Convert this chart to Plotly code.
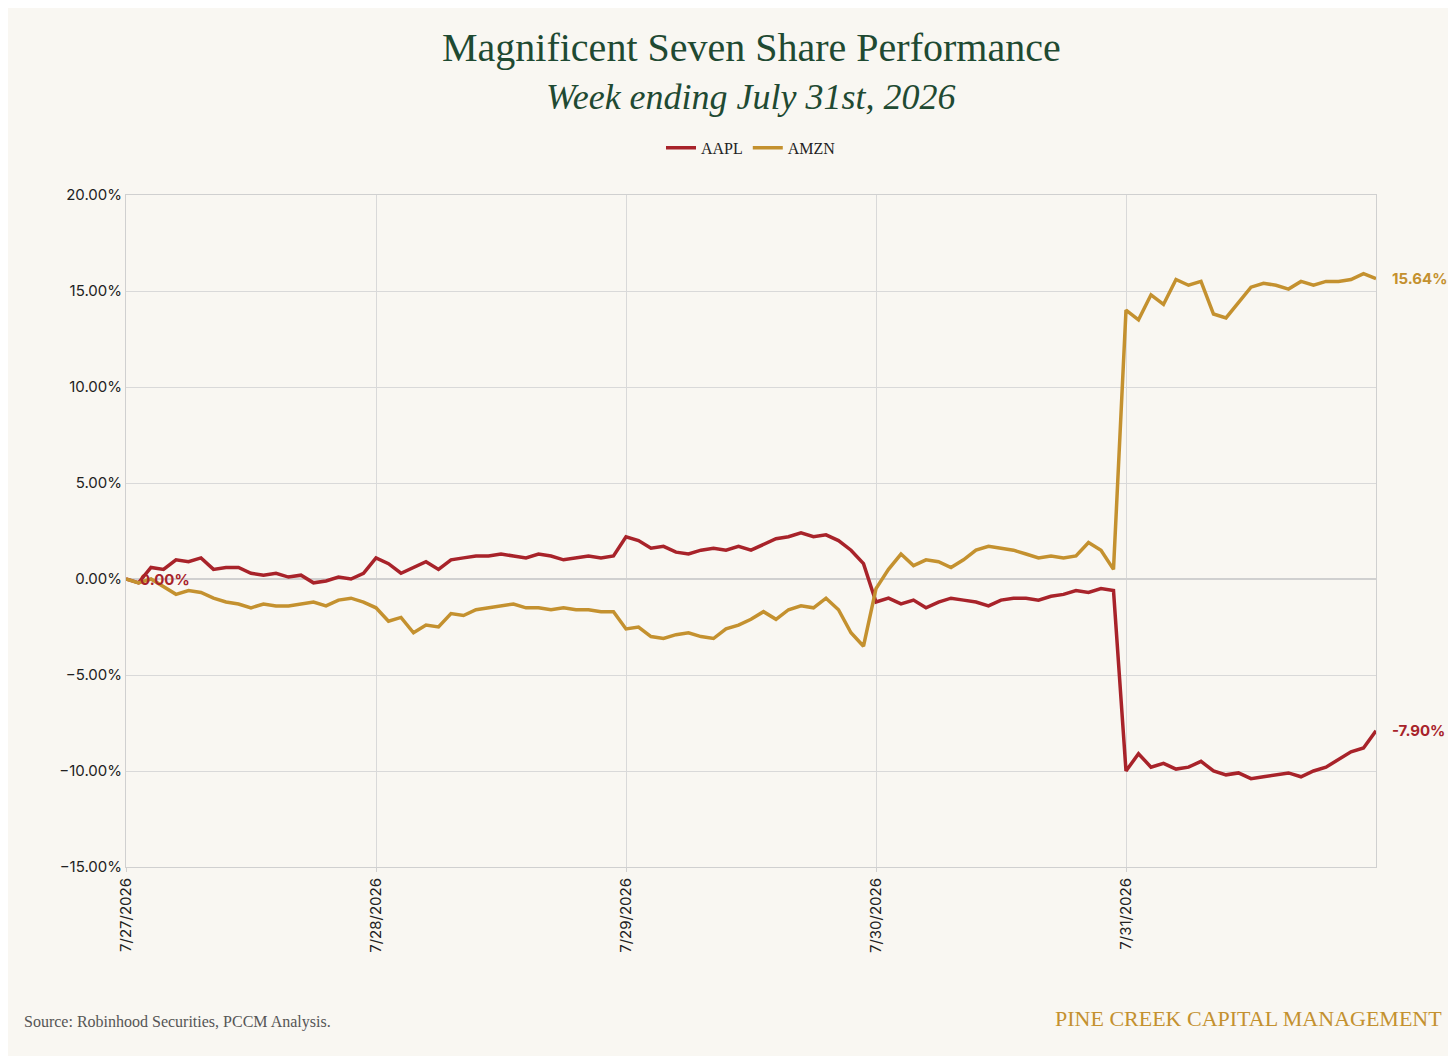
import plotly.graph_objects as go

days = ["7/27/2026", "7/28/2026", "7/29/2026", "7/30/2026", "7/31/2026"]
pts_per_day = 20

aapl = [0, -0.2, 0.6, 0.5, 1.0, 0.9, 1.1, 0.5, 0.6, 0.6, 0.3, 0.2, 0.3, 0.1, 0.2, -0.2, -0.1, 0.1, 0.0, 0.3,
        1.1, 0.8, 0.3, 0.6, 0.9, 0.5, 1.0, 1.1, 1.2, 1.2, 1.3, 1.2, 1.1, 1.3, 1.2, 1.0, 1.1, 1.2, 1.1, 1.2,
        2.2, 2.0, 1.6, 1.7, 1.4, 1.3, 1.5, 1.6, 1.5, 1.7, 1.5, 1.8, 2.1, 2.2, 2.4, 2.2, 2.3, 2.0, 1.5, 0.8,
        -1.2, -1.0, -1.3, -1.1, -1.5, -1.2, -1.0, -1.1, -1.2, -1.4, -1.1, -1.0, -1.0, -1.1, -0.9, -0.8, -0.6, -0.7, -0.5, -0.6,
        -10.0, -9.1, -9.8, -9.6, -9.9, -9.8, -9.5, -10.0, -10.2, -10.1, -10.4, -10.3, -10.2, -10.1, -10.3, -10.0, -9.8, -9.4, -9.0, -8.8, -7.9]
amzn = [0, -0.2, 0.0, -0.4, -0.8, -0.6, -0.7, -1.0, -1.2, -1.3, -1.5, -1.3, -1.4, -1.4, -1.3, -1.2, -1.4, -1.1, -1.0, -1.2,
        -1.5, -2.2, -2.0, -2.8, -2.4, -2.5, -1.8, -1.9, -1.6, -1.5, -1.4, -1.3, -1.5, -1.5, -1.6, -1.5, -1.6, -1.6, -1.7, -1.7,
        -2.6, -2.5, -3.0, -3.1, -2.9, -2.8, -3.0, -3.1, -2.6, -2.4, -2.1, -1.7, -2.1, -1.6, -1.4, -1.5, -1.0, -1.6, -2.8, -3.5,
        -0.5, 0.5, 1.3, 0.7, 1.0, 0.9, 0.6, 1.0, 1.5, 1.7, 1.6, 1.5, 1.3, 1.1, 1.2, 1.1, 1.2, 1.9, 1.5, 0.5,
        14.0, 13.5, 14.8, 14.3, 15.6, 15.3, 15.5, 13.8, 13.6, 14.4, 15.2, 15.4, 15.3, 15.1, 15.5, 15.3, 15.5, 15.5, 15.6, 15.9, 15.64]

RED = "#a8232a"
GOLD = "#c4912f"
GREEN = "#1f4a32"
BG = "#f9f7f2"

x = list(range(len(aapl)))

fig = go.Figure()
fig.add_trace(go.Scatter(x=x, y=aapl, mode="lines", name="AAPL", line=dict(color=RED, width=3.5)))
fig.add_trace(go.Scatter(x=x, y=amzn, mode="lines", name="AMZN", line=dict(color=GOLD, width=3.5)))

# end / start labels
fig.add_annotation(x=x[-1], y=amzn[-1], text="<b>%.2f%%</b>" % amzn[-1], showarrow=False,
                   xanchor="left", xshift=14, font=dict(color=GOLD, size=15, family="Inter"))
fig.add_annotation(x=x[-1], y=aapl[-1], text="<b>%.2f%%</b>" % aapl[-1], showarrow=False,
                   xanchor="left", xshift=14, font=dict(color=RED, size=15, family="Inter"))
fig.add_annotation(x=x[0], y=aapl[0], text="<b>0.00%</b>", showarrow=False,
                   xanchor="left", xshift=12, font=dict(color=RED, size=15, family="Inter"))

fig.add_annotation(xref="paper", yref="paper", x=0.5, y=1.0, yshift=172, text="Magnificent Seven Share Performance",
                   showarrow=False, font=dict(family="Liberation Serif", size=40, color=GREEN))
fig.add_annotation(xref="paper", yref="paper", x=0.5, y=1.0, yshift=120, text="<i>Week ending July 31st, 2026</i>",
                   showarrow=False, font=dict(family="Liberation Serif", size=36, color=GREEN))
fig.add_annotation(xref="paper", yref="paper", x=-0.083, y=0, yshift=-166, xanchor="left",
                   text="Source: Robinhood Securities, PCCM Analysis.", showarrow=False,
                   font=dict(family="Liberation Serif", size=16, color="#555555"))
fig.add_annotation(xref="paper", yref="paper", x=1.054, y=0, yshift=-166, xanchor="right",
                   text="PINE CREEK CAPITAL MANAGEMENT", showarrow=False,
                   font=dict(family="Liberation Serif", size=22, color=GOLD))

fig.update_layout(
    width=1456, height=1056,
    paper_bgcolor=BG, plot_bgcolor=BG,
    margin=dict(l=118, r=88, t=187, b=197),
    font=dict(family="Inter", size=15, color="#222222"),
    legend=dict(orientation="h", x=0.5, xanchor="center", y=1.045, yanchor="bottom", yref="paper",
                font=dict(family="Liberation Serif", size=16), bgcolor="rgba(0,0,0,0)"),
    showlegend=True,
)
fig.update_xaxes(range=[0, len(aapl) - 1], tickmode="array",
                 tickvals=[i * pts_per_day for i in range(len(days))], ticktext=days,
                 tickangle=-90, showgrid=True, gridcolor="#d9d9d9", showline=True, linecolor="#d0d0d0",
                 mirror=True, zeroline=False, ticks="outside", tickcolor="#d0d0d0", ticklen=4)
fig.update_yaxes(range=[-15, 20], dtick=5, tickformat=".2f", ticksuffix="%",
                 showgrid=True, gridcolor="#d9d9d9", zeroline=True, zerolinecolor="#d0d0d0",
                 showline=True, linecolor="#d0d0d0", mirror=True)

fig.write_html("out.html")
